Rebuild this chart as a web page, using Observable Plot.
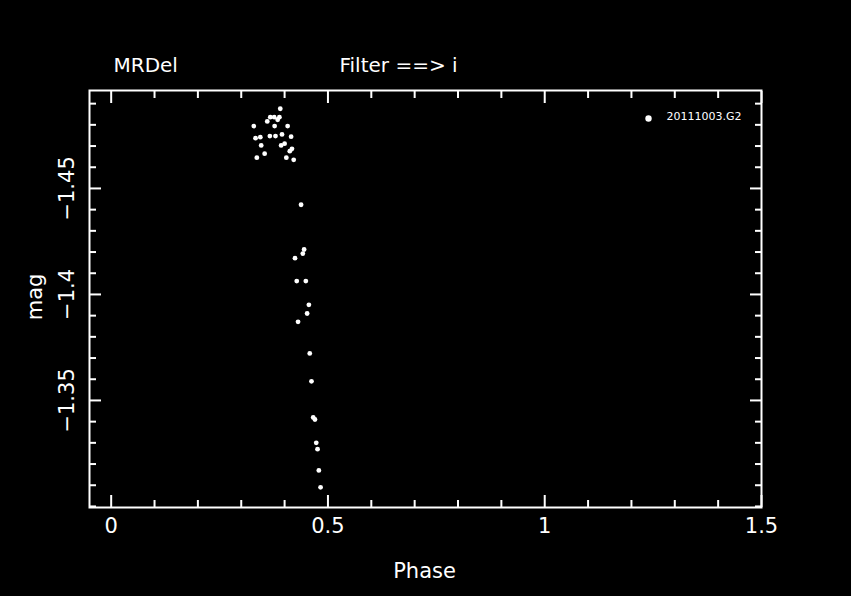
<!DOCTYPE html>
<html>
<head>
<meta charset="utf-8">
<script src="https://cdn.jsdelivr.net/npm/d3@7"></script>
<script src="https://cdn.jsdelivr.net/npm/@observablehq/plot@0.6"></script>
<style>
  html, body { margin: 0; padding: 0; background: #000; }
  #chart svg { display: block; background: #000; }
</style>
</head>
<body>
<div id="chart"></div>
<script>
const phase = [
  0.390, 0.367, 0.376, 0.388, 0.384, 0.360, 0.329, 0.377, 0.407,
  0.333, 0.344, 0.366, 0.379, 0.394, 0.415, 0.346, 0.392, 0.400,
  0.417, 0.412, 0.336, 0.354, 0.404, 0.421,
  0.438, 0.445, 0.442, 0.424, 0.428, 0.449, 0.456, 0.452, 0.431,
  0.458, 0.462, 0.466, 0.470, 0.473, 0.476, 0.479, 0.483
];
const mag = [
  -1.4876, -1.4836, -1.4836, -1.4836, -1.4824, -1.4816, -1.4794, -1.4794, -1.4794,
  -1.4737, -1.4742, -1.4747, -1.4747, -1.4755, -1.4744, -1.4703, -1.4703, -1.4711,
  -1.4687, -1.4676, -1.4645, -1.4664, -1.4645, -1.4635,
  -1.4423, -1.4212, -1.4193, -1.4171, -1.4063, -1.4063, -1.3951, -1.3910, -1.3871,
  -1.3722, -1.3590, -1.3420, -1.3410, -1.3300, -1.3270, -1.3170, -1.3090
];
const seriesName = ["20111003.G2"];
const titleLeft = ["MRDel"];
const titleRight = ["Filter ==> i"];
const xLabel = ["Phase"];
const yLabel = ["mag"];

const xMajor = [0, 0.5, 1, 1.5];
const xMajorLabels = ["0", "0.5", "1", "1.5"];
const xMinor = [0.1, 0.2, 0.3, 0.4, 0.6, 0.7, 0.8, 0.9, 1.1, 1.2, 1.3, 1.4];
const yMajor = [-1.45, -1.4, -1.35];
const yMajorLabels = ["\u22121.45", "\u22121.4", "\u22121.35"];
const yMinor = [-1.49, -1.48, -1.47, -1.46, -1.44, -1.43, -1.42, -1.41,
                -1.39, -1.38, -1.37, -1.36, -1.34, -1.33, -1.32, -1.31, -1.30];

const data = phase.map((p, i) => ({phase: p, mag: mag[i]}));
const xTickData = xMajor.map((v, i) => ({v, t: xMajorLabels[i]}));
const yTickData = yMajor.map((v, i) => ({v, t: yMajorLabels[i]}));

const W = "#fff";
const FONT = "DejaVu Sans";
const noText = () => "";

function xTicks(values, size, anchor) {
  return Plot.axisX(values, {
    anchor, tickSize: size, dy: anchor === "bottom" ? -size : size,
    tickFormat: noText, label: null, stroke: W, strokeWidth: 2
  });
}
function yTicks(values, size, anchor) {
  return Plot.axisY(values, {
    anchor, tickSize: size, dx: anchor === "left" ? size : -size,
    tickFormat: noText, label: null, stroke: W, strokeWidth: 2
  });
}

const chart = Plot.plot({
  width: 851,
  height: 596,
  marginTop: 90,
  marginBottom: 89,
  marginLeft: 89,
  marginRight: 90,
  style: {background: "#000", color: W, fontFamily: FONT},
  x: {domain: [-0.05, 1.5]},
  y: {domain: [-1.2995, -1.4962]},
  marks: [
    xTicks(xMajor, 12, "bottom"),
    xTicks(xMinor, 7, "bottom"),
    xTicks(xMajor, 12, "top"),
    xTicks(xMinor, 7, "top"),
    yTicks(yMajor, 12, "left"),
    yTicks(yMinor, 7, "left"),
    yTicks(yMajor, 12, "right"),
    yTicks(yMinor, 7, "right"),
    Plot.frame({stroke: W, strokeWidth: 2}),
    Plot.text(xTickData, {x: "v", text: "t", frameAnchor: "bottom", dy: 19,
      fill: W, fontSize: 21, lineAnchor: "middle", textAnchor: "middle"}),
    Plot.text(yTickData, {y: "v", text: "t", frameAnchor: "left", dx: -22, rotate: -90,
      fill: W, fontSize: 21, lineAnchor: "middle", textAnchor: "middle"}),
    Plot.text(xLabel, {text: d => d, frameAnchor: "bottom", dy: 64, dx: -1,
      fill: W, fontSize: 21, lineAnchor: "middle"}),
    Plot.text(yLabel, {text: d => d, frameAnchor: "left", dx: -54, dy: -2, rotate: -90,
      fill: W, fontSize: 21, lineAnchor: "middle", textAnchor: "middle"}),
    Plot.text(titleLeft, {text: d => d, frameAnchor: "top-left", dx: 24, dy: -25,
      fill: W, fontSize: 20, lineAnchor: "middle", textAnchor: "start"}),
    Plot.text(titleRight, {text: d => d, frameAnchor: "top-left", dx: 250, dy: -25,
      fill: W, fontSize: 20, lineAnchor: "middle", textAnchor: "start"}),
    Plot.dot(data, {x: "phase", y: "mag", r: 2.4, fill: W, stroke: "none"}),
    Plot.dot(seriesName, {frameAnchor: "top-right", dx: -113, dy: 28, r: 3.2, fill: W, stroke: "none"}),
    Plot.text(seriesName, {text: d => d, frameAnchor: "top-right", dx: -95, dy: 26,
      fill: W, fontSize: 11, lineAnchor: "middle", textAnchor: "start"})
  ]
});
document.getElementById("chart").appendChild(chart);
</script>
</body>
</html>
